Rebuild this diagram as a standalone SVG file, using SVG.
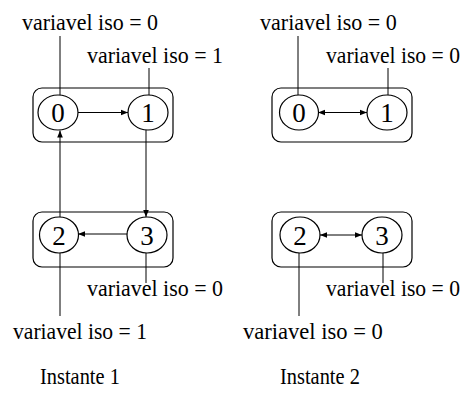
<svg xmlns="http://www.w3.org/2000/svg" width="465" height="395" viewBox="0 0 465 395">
  <style>
    .box { fill: none; stroke: #000; stroke-width: 1.2; }
    .node { fill: #fff; stroke: #000; stroke-width: 1.2; }
    .num { font-family: "Liberation Serif", "Times New Roman", serif; font-size: 27px; text-anchor: middle; fill: #000; }
    .lbl { font-family: "Liberation Serif", "Times New Roman", serif; font-size: 24px; fill: #000; }
    .lead { stroke: #000; stroke-width: 1; fill: none; }
    .edge { stroke: #000; stroke-width: 1; fill: none; }
  </style>
  <defs>
    <marker id="arrow" viewBox="0 0 10 10" refX="10" refY="5" markerWidth="8" markerHeight="7" markerUnits="userSpaceOnUse" orient="auto-start-reverse">
      <path d="M0,1 L10,5 L0,9 Z" fill="#000"/>
    </marker>
  </defs>

  <rect x="0" y="0" width="465" height="395" fill="#fff"/>

  <!-- grouping boxes -->
  <rect class="box" x="33" y="88" width="140" height="54" rx="9"/>
  <rect class="box" x="33" y="212" width="140" height="55" rx="9"/>
  <rect class="box" x="272" y="88" width="140" height="54" rx="9"/>
  <rect class="box" x="272" y="212" width="140" height="55" rx="9"/>

  <g id="connectors">
    <!-- Instante 1 -->
    <line class="edge" x1="78" y1="112.5" x2="128" y2="112.5" marker-end="url(#arrow)"/>
    <line class="edge" x1="60" y1="217" x2="60" y2="130.5" marker-end="url(#arrow)"/>
    <line class="edge" x1="146" y1="130" x2="146" y2="217" marker-end="url(#arrow)"/>
    <line class="edge" x1="127" y1="234" x2="78" y2="234" marker-end="url(#arrow)"/>
    <!-- Instante 2 -->
    <line class="edge" x1="318" y1="112.5" x2="367" y2="112.5" marker-start="url(#arrow)" marker-end="url(#arrow)"/>
    <line class="edge" x1="320" y1="235" x2="362" y2="235" marker-start="url(#arrow)" marker-end="url(#arrow)"/>
    <!-- label leaders -->
    <line class="lead" x1="60" y1="36" x2="60" y2="95"/>
    <line class="lead" x1="149" y1="68" x2="149" y2="95"/>
    <line class="lead" x1="60" y1="253" x2="60" y2="316"/>
    <line class="lead" x1="146" y1="253" x2="146" y2="283"/>
    <line class="lead" x1="298" y1="36" x2="298" y2="95"/>
    <line class="lead" x1="388" y1="68" x2="388" y2="95"/>
    <line class="lead" x1="299" y1="253" x2="299" y2="316"/>
    <line class="lead" x1="383" y1="253" x2="383" y2="283"/>
  </g>

  <!-- Instante 1 -->
  <g id="i1-n0"><ellipse class="node" cx="58" cy="112.5" rx="20" ry="17.5"/><text class="num" x="58" y="122">0</text></g>
  <g id="i1-n1"><ellipse class="node" cx="148" cy="112.5" rx="20" ry="17.5"/><text class="num" x="148" y="122">1</text></g>
  <g id="i1-n2"><ellipse class="node" cx="59" cy="235" rx="19.5" ry="18"/><text class="num" x="59" y="244.5">2</text></g>
  <g id="i1-n3"><ellipse class="node" cx="147" cy="235" rx="20" ry="18"/><text class="num" x="147" y="244.5">3</text></g>

  <!-- Instante 2 -->
  <g id="i2-n0"><ellipse class="node" cx="299" cy="112.5" rx="19.5" ry="17.5"/><text class="num" x="299" y="122">0</text></g>
  <g id="i2-n1"><ellipse class="node" cx="387" cy="112.5" rx="20" ry="17.5"/><text class="num" x="387" y="122">1</text></g>
  <g id="i2-n2"><ellipse class="node" cx="300" cy="235" rx="20" ry="18"/><text class="num" x="300" y="244.5">2</text></g>
  <g id="i2-n3"><ellipse class="node" cx="382" cy="235" rx="20" ry="18"/><text class="num" x="382" y="244.5">3</text></g>

  <!-- labels: Times-width face, narrowed horizontally -->
  <g id="labels">
    <text class="lbl" transform="translate(22,30) scale(0.914,1)">variavel iso = 0</text>
    <text class="lbl" transform="translate(87,63) scale(0.914,1)">variavel iso = 1</text>
    <text class="lbl" transform="translate(87,296) scale(0.914,1)">variavel iso = 0</text>
    <text class="lbl" transform="translate(13,339) scale(0.9,1)">variavel iso = 1</text>
    <text class="lbl" transform="translate(40,384) scale(0.85,1)">Instante 1</text>
    <text class="lbl" transform="translate(260,30) scale(0.92,1)">variavel iso = 0</text>
    <text class="lbl" transform="translate(326,63) scale(0.9,1)">variavel iso = 0</text>
    <text class="lbl" transform="translate(326,296) scale(0.9,1)">variavel iso = 0</text>
    <text class="lbl" transform="translate(243,339) scale(0.94,1)">variavel iso = 0</text>
    <text class="lbl" transform="translate(280,384) scale(0.85,1)">Instante 2</text>
  </g>
</svg>
